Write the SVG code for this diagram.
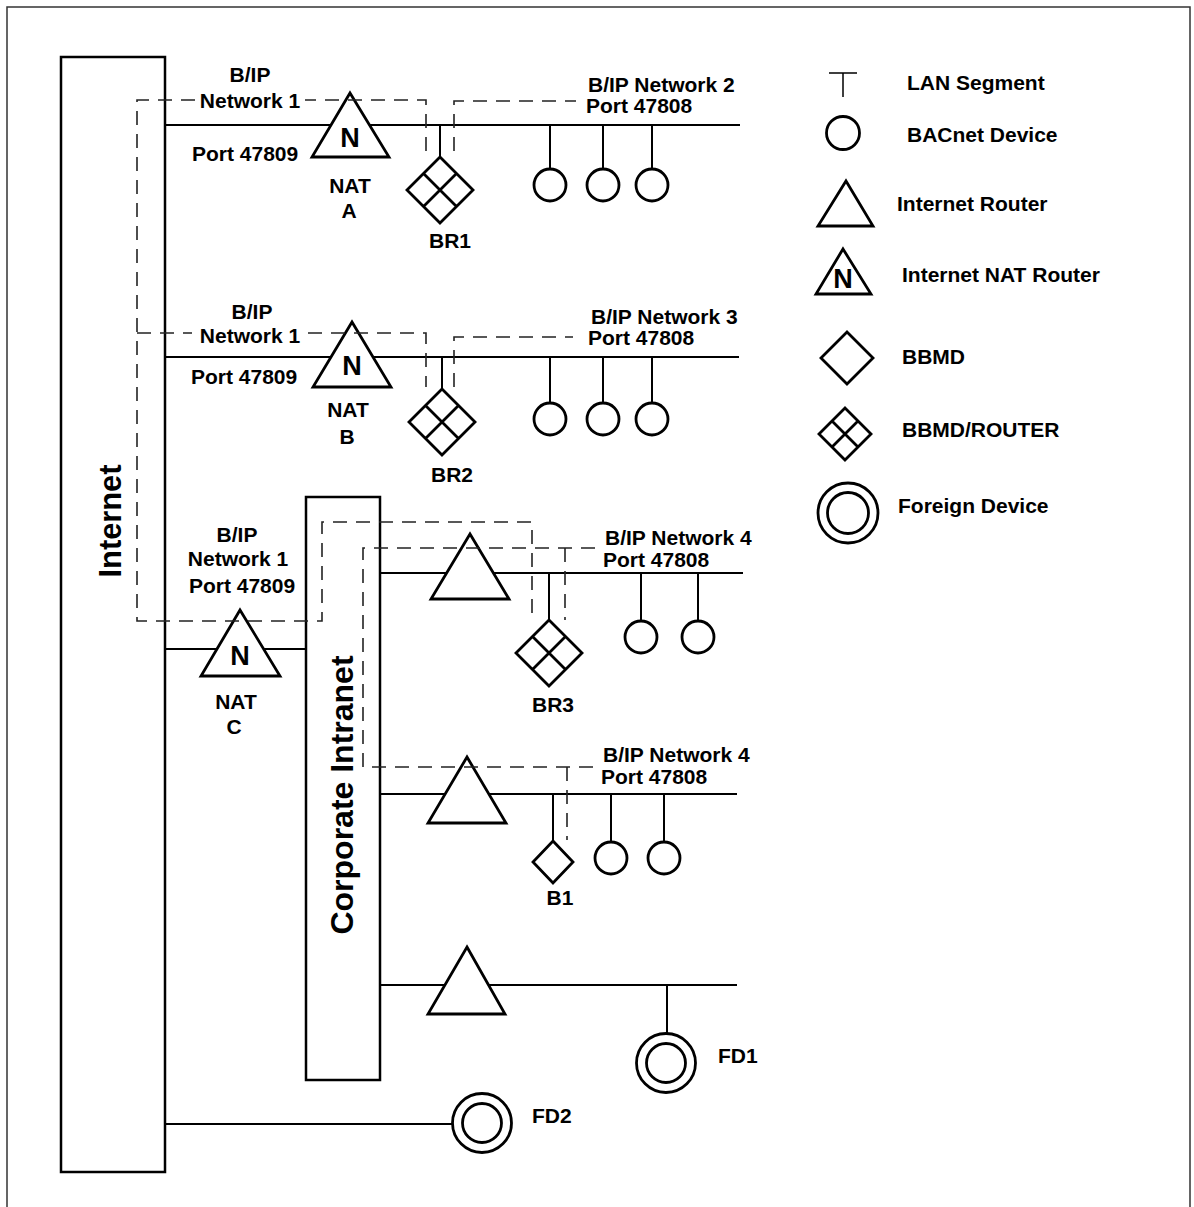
<svg xmlns="http://www.w3.org/2000/svg" width="1194" height="1207" viewBox="0 0 1194 1207">
<style>
text{font-family:"Liberation Sans",Arial,sans-serif;font-weight:bold;fill:#000;font-size:21px}
.m{text-anchor:middle}
.n{font-size:27px;text-anchor:middle}
.big{font-size:32px;text-anchor:middle}
.shape{fill:#fff;stroke:#000;stroke-width:2.8;stroke-linejoin:miter}
.box{fill:#fff;stroke:#000;stroke-width:2.5}
.bus{fill:none;stroke:#000;stroke-width:2}
.dash{fill:none;stroke:#222;stroke-width:1.6;stroke-dasharray:14 9}
.frame{fill:none;stroke:#333;stroke-width:1.5}
</style>
<defs>
<g id="br"><path class="shape" d="M0,-33 L33,0 L0,33 L-33,0 Z M-16.5,-16.5 L16.5,16.5 M16.5,-16.5 L-16.5,16.5"/></g>
<circle id="dev" class="shape" r="16"/>
<g id="fd"><circle class="shape" r="29.5"/><circle class="shape" r="19.5"/></g>
</defs>

<path class="frame" d="M7,1207 V7 H1190 V1207"/>

<g id="connectors">
<!-- Network 2 -->
<path class="bus" d="M165,125 H740 M440,125 V157 M550,125 V169 M603,125 V169 M652,125 V169"/>
<!-- Network 3 -->
<path class="bus" d="M165,357 H739 M442,357 V389 M550,357 V403 M603,357 V403 M652,357 V403"/>
<!-- NAT C link -->
<path class="bus" d="M165,649 H306"/>
<!-- Network 4 (BR3) -->
<path class="bus" d="M380,573 H743 M549,573 V620 M641,573 V621 M698,573 V621"/>
<!-- Network 4 (B1) -->
<path class="bus" d="M380,794 H737 M553,794 V841 M611,794 V842 M664,794 V842"/>
<!-- FD1 segment -->
<path class="bus" d="M380,985 H737 M667,985 V1034"/>
<!-- FD2 -->
<path class="bus" d="M165,1124 H453"/>
</g>

<g id="internet"><rect class="box" x="61" y="57" width="104" height="1115"/>
<text class="big" transform="translate(121,521) rotate(-90)" textLength="113" lengthAdjust="spacingAndGlyphs">Internet</text></g>
<g id="intranet"><rect class="box" x="306" y="497" width="74" height="583"/>
<text class="big" transform="translate(353,795) rotate(-90)">Corporate Intranet</text></g>

<g id="nat-a"><path class="shape" d="M350,93 L389,157 L312,157 Z"/><text class="n" x="350" y="147">N</text>
<text class="m" x="350" y="193">NAT</text><text class="m" x="349" y="218">A</text></g>
<g id="nat-b"><path class="shape" d="M352,322 L391,387 L313,387 Z"/><text class="n" x="352" y="375">N</text>
<text class="m" x="348" y="417">NAT</text><text class="m" x="347" y="444">B</text></g>
<g id="nat-c"><path class="shape" d="M240,610 L280,676 L201,676 Z"/><text class="n" x="240" y="665">N</text>
<text class="m" x="236" y="709">NAT</text><text class="m" x="234" y="734">C</text></g>

<g id="router-1"><path class="shape" d="M470,534 L509,599 L431,599 Z"/></g>
<g id="router-2"><path class="shape" d="M467,757 L506,823 L428,823 Z"/></g>
<g id="router-3"><path class="shape" d="M467,947 L505,1014 L428,1014 Z"/></g>

<g id="br1"><use href="#br" x="440" y="190"/><text class="m" x="450" y="248">BR1</text></g>
<g id="br2"><use href="#br" x="442" y="422"/><text class="m" x="452" y="482">BR2</text></g>
<g id="br3"><use href="#br" x="549" y="653"/><text class="m" x="553" y="712">BR3</text></g>
<g id="b1"><path class="shape" d="M553,841 L573,862 L553,883 L533,862 Z"/><text class="m" x="560" y="905">B1</text></g>

<g id="devices-net2"><use href="#dev" x="550" y="185"/><use href="#dev" x="603" y="185"/><use href="#dev" x="652" y="185"/></g>
<g id="devices-net3"><use href="#dev" x="550" y="419"/><use href="#dev" x="603" y="419"/><use href="#dev" x="652" y="419"/></g>
<g id="devices-net4a"><use href="#dev" x="641" y="637"/><use href="#dev" x="698" y="637"/></g>
<g id="devices-net4b"><use href="#dev" x="611" y="858"/><use href="#dev" x="664" y="858"/></g>

<g id="fd1"><use href="#fd" x="666" y="1063"/><text x="718" y="1063">FD1</text></g>
<g id="fd2"><use href="#fd" x="482" y="1123"/><text x="532" y="1123">FD2</text></g>

<g id="dashed">
<path class="dash" d="M426,151 V100 H305 M195,100 H137 V621 H322 V522 H532 V620"/>
<path class="dash" d="M137,333 H192 M308,333 H426 V387"/>
<path class="dash" d="M454,151 V101 H576"/>
<path class="dash" d="M454,387 V337 H573"/>
<path class="dash" d="M595,548 H363 V767 H595 M565,548 V620 M567,767 V840"/>
</g>

<g id="labels">
<text class="m" x="250" y="82">B/IP</text>
<text class="m" x="250" y="108">Network 1</text>
<text x="192" y="161">Port 47809</text>
<text x="588" y="92">B/IP Network 2</text>
<text x="586" y="113">Port 47808</text>
<text class="m" x="252" y="319">B/IP</text>
<text class="m" x="250" y="343">Network 1</text>
<text x="191" y="384">Port 47809</text>
<text x="591" y="324">B/IP Network 3</text>
<text x="588" y="345">Port 47808</text>
<text class="m" x="237" y="542">B/IP</text>
<text class="m" x="238" y="566">Network 1</text>
<text class="m" x="242" y="593">Port 47809</text>
<text x="605" y="545">B/IP Network 4</text>
<text x="603" y="567">Port 47808</text>
<text x="603" y="762">B/IP Network 4</text>
<text x="601" y="784">Port 47808</text>
</g>

<g id="legend">
<path class="bus" d="M829,73 H857 M843,73 V97" style="stroke-width:1.5"/>
<text x="907" y="90">LAN Segment</text>
<circle class="shape" cx="843" cy="133" r="16.5"/>
<text x="907" y="142">BACnet Device</text>
<path class="shape" d="M846,181 L873,226 L818,226 Z"/>
<text x="897" y="211">Internet Router</text>
<path class="shape" d="M843,249 L871,294 L816,294 Z"/><text class="n" x="843" y="288">N</text>
<text x="902" y="282">Internet NAT Router</text>
<path class="shape" d="M847,332 L873,358 L847,384 L821,358 Z"/>
<text x="902" y="364">BBMD</text>
<path class="shape" d="M845,408 L871,434 L845,460 L819,434 Z M832,421 L858,447 M858,421 L832,447"/>
<text x="902" y="437">BBMD/ROUTER</text>
<circle class="shape" cx="848" cy="513" r="30"/><circle class="shape" cx="848" cy="513" r="20.5"/>
<text x="898" y="513">Foreign Device</text>
</g>
</svg>
